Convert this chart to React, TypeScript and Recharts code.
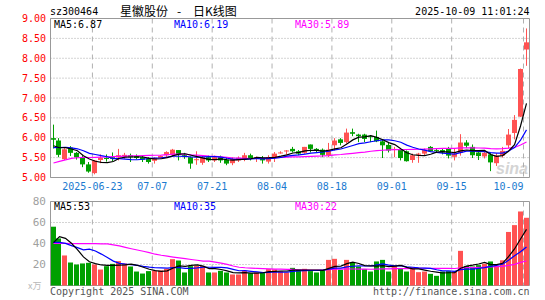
import React from "react";
import {
  Bar,
  CartesianGrid,
  ComposedChart,
  Line,
  ReferenceArea,
  XAxis,
  YAxis,
} from "recharts";

// trading days shown (2025), holiday gap 10-01..10-08
const dates = [
  "06-12", "06-13",
  "06-16", "06-17", "06-18", "06-19", "06-20",
  "06-23", "06-24", "06-25", "06-26", "06-27",
  "06-30", "07-01", "07-02", "07-03", "07-04",
  "07-07", "07-08", "07-09", "07-10", "07-11",
  "07-14", "07-15", "07-16", "07-17", "07-18",
  "07-21", "07-22", "07-23", "07-24", "07-25",
  "07-28", "07-29", "07-30", "07-31", "08-01",
  "08-04", "08-05", "08-06", "08-07", "08-08",
  "08-11", "08-12", "08-13", "08-14", "08-15",
  "08-18", "08-19", "08-20", "08-21", "08-22",
  "08-25", "08-26", "08-27", "08-28", "08-29",
  "09-01", "09-02", "09-03", "09-04", "09-05",
  "09-08", "09-09", "09-10", "09-11", "09-12",
  "09-15", "09-16", "09-17", "09-18", "09-19",
  "09-22", "09-23", "09-24", "09-25", "09-26",
  "09-29", "09-30",
  "10-09",
];

const tickDates = ["06-23", "07-07", "07-21", "08-04", "08-18", "09-01", "09-15", "10-09"];
const tickLabels = ["2025-06-23", "07-07", "07-21", "08-04", "08-18", "09-01", "09-15", "10-09"];

const opens = [
  5.99, 5.93, 5.46, 5.75, 5.62, 5.49, 5.33, 5.11, 5.44, 5.49,
  5.51, 5.51, 5.53, 5.56, 5.54, 5.51, 5.47, 5.42, 5.49, 5.56,
  5.57, 5.69, 5.56, 5.51, 5.45, 5.37, 5.51, 5.43, 5.51, 5.45,
  5.36, 5.43, 5.46, 5.56, 5.49, 5.49, 5.40, 5.51, 5.62, 5.67,
  5.72, 5.66, 5.62, 5.83, 5.72, 5.70, 5.56, 5.81, 5.96, 5.89,
  6.14, 6.08, 6.08, 6.04, 6.02, 5.91, 5.82, 5.70, 5.71, 5.66,
  5.44, 5.58, 5.60, 5.77, 5.69, 5.69, 5.73, 5.52, 5.62, 5.88,
  5.77, 5.63, 5.53, 5.58, 5.36, 5.55, 5.81, 6.12, 6.53, 8.22,
];
const highs = [
  6.33, 5.99, 5.74, 5.79, 5.64, 5.56, 5.39, 5.44, 5.58, 5.58,
  5.63, 5.72, 5.62, 5.60, 5.58, 5.56, 5.51, 5.51, 5.56, 5.66,
  5.72, 5.69, 5.62, 5.53, 5.66, 5.56, 5.55, 5.55, 5.55, 5.51,
  5.51, 5.53, 5.62, 5.60, 5.53, 5.54, 5.56, 5.64, 5.66, 5.69,
  5.77, 5.69, 5.77, 5.83, 5.74, 5.73, 5.87, 5.99, 5.99, 6.23,
  6.23, 6.10, 6.10, 6.06, 6.18, 5.97, 5.88, 5.77, 5.74, 5.68,
  5.60, 5.62, 5.73, 5.79, 5.72, 5.72, 5.77, 5.74, 6.09, 5.94,
  5.83, 5.69, 5.69, 5.62, 5.61, 5.77, 6.22, 6.57, 7.74, 8.75,
];
const lows = [
  5.73, 5.51, 5.44, 5.54, 5.45, 5.26, 5.12, 5.08, 5.36, 5.40,
  5.40, 5.43, 5.47, 5.39, 5.46, 5.39, 5.35, 5.35, 5.47, 5.49,
  5.54, 5.43, 5.47, 5.22, 5.32, 5.32, 5.39, 5.39, 5.37, 5.31,
  5.31, 5.39, 5.41, 5.43, 5.39, 5.35, 5.35, 5.39, 5.60, 5.57,
  5.63, 5.56, 5.60, 5.63, 5.63, 5.51, 5.51, 5.68, 5.81, 5.85,
  6.04, 5.89, 5.89, 5.89, 5.89, 5.49, 5.63, 5.51, 5.43, 5.40,
  5.37, 5.37, 5.56, 5.64, 5.64, 5.58, 5.48, 5.43, 5.55, 5.74,
  5.49, 5.44, 5.48, 5.16, 5.29, 5.50, 5.73, 5.96, 6.52, 7.81,
];
const closes = [
  5.95, 5.57, 5.71, 5.62, 5.51, 5.33, 5.15, 5.43, 5.49, 5.47,
  5.47, 5.56, 5.57, 5.51, 5.49, 5.45, 5.39, 5.49, 5.54, 5.64,
  5.70, 5.57, 5.54, 5.35, 5.46, 5.51, 5.43, 5.51, 5.43, 5.35,
  5.47, 5.49, 5.56, 5.49, 5.51, 5.43, 5.51, 5.60, 5.63, 5.68,
  5.66, 5.60, 5.77, 5.72, 5.67, 5.57, 5.70, 5.93, 5.87, 6.13,
  6.10, 6.04, 5.97, 6.02, 5.91, 5.81, 5.68, 5.72, 5.49, 5.41,
  5.56, 5.60, 5.69, 5.66, 5.68, 5.63, 5.55, 5.60, 5.88, 5.80,
  5.56, 5.54, 5.62, 5.38, 5.55, 5.67, 6.08, 6.45, 7.73, 8.40,
];
const volumes = [
  56, 44.8, 28.6, 21.9, 20, 21, 21.6, 20, 15.2, 18.4,
  20.6, 23.2, 21, 18.1, 13.3, 11.4, 13.7, 14.3, 14.3, 15.9,
  25.1, 23.8, 12.4, 18.4, 18.7, 18.7, 12.4, 12.4, 14, 12.4,
  10.5, 10.5, 14, 11.7, 12.4, 12, 15.6, 15.3, 13.7, 12.4,
  16.8, 15, 15.9, 13.7, 12.4, 15, 24.4, 25.4, 15, 24.4,
  21.9, 18.1, 15.6, 13.3, 22.9, 24.4, 13.3, 18.7, 16.5, 13.3,
  17.5, 12.7, 13.3, 11.1, 9.2, 13.3, 13.7, 13.3, 33, 18.7,
  18.1, 19.4, 20.6, 22.9, 18.7, 24, 51, 57.5, 70.5, 64.5,
];

// sessions before the window, estimated from where the averages start
const earlierCloses = [
  4.40, 4.52, 4.46, 5.05, 5.12, 5.20, 5.28, 5.35, 5.30, 5.26,
  5.32, 5.38, 5.41, 5.36, 5.33, 5.29, 5.34, 5.40, 5.37, 5.30,
  5.52, 5.65, 5.78, 5.74, 5.81, 5.83, 5.70, 5.79, 5.73,
];
const earlierVolumes = [
  40, 30, 25, 22, 24, 21, 22, 19, 18, 48,
  55, 62, 58, 50, 47, 52, 60, 45, 42, 50,
  45, 38, 42, 40, 41, 16, 37, 45, 50,
];

const priceTicks = [5, 5.5, 6, 6.5, 7, 7.5, 8, 8.5, 9];
const volumeTicks = [20, 40, 60, 80];

const priceLegend = [
  { text: "MA5:6.87", color: "#000000", x: 54 },
  { text: "MA10:6.19", color: "#0000ff", x: 174 },
  { text: "MA30:5.89", color: "#ff00ff", x: 295 },
];
const volumeLegend = [
  { text: "MA5:53", color: "#000000", x: 54 },
  { text: "MA10:35", color: "#0000ff", x: 174 },
  { text: "MA30:22", color: "#ff00ff", x: 295 },
];

const RED = "#ff5252";
const GREEN = "#00a000";
const MONO = '"DejaVu Sans Mono", "Liberation Mono", monospace';
const CJK = '"Noto Sans CJK SC", sans-serif';

const WIDTH = 545;
const PLOT_LEFT = 50.5;
const PLOT_RIGHT = 529.5;
const BAND = (PLOT_RIGHT - PLOT_LEFT) / dates.length;
const PRICE_HEIGHT = 195;
const PRICE_TOP = 18.5;
const PRICE_BOTTOM = 177.5;
const VOL_OFFSET = 195;
const VOL_HEIGHT = 105;
const VOL_TOP = 201.5;
const VOL_BOTTOM = 285.5;

function movingAverage(values: number[], earlier: number[], n: number) {
  const all = [...earlier, ...values];
  return values.map((_, i) => {
    const end = earlier.length + i;
    let sum = 0;
    for (let k = end - n + 1; k <= end; k++) sum += all[k];
    return sum / n;
  });
}

const ma5 = movingAverage(closes, earlierCloses, 5);
const ma10 = movingAverage(closes, earlierCloses, 10);
const ma30 = movingAverage(closes, earlierCloses, 30);
const vma5 = movingAverage(volumes, earlierVolumes, 5);
const vma10 = movingAverage(volumes, earlierVolumes, 10);
const vma30 = movingAverage(volumes, earlierVolumes, 30);

const rows = dates.map((date, i) => ({
  date,
  open: opens[i],
  high: highs[i],
  low: lows[i],
  close: closes[i],
  range: [lows[i], highs[i]],
  volume: volumes[i],
  ma5: ma5[i],
  ma10: ma10[i],
  ma30: ma30[i],
  vma5: vma5[i],
  vma10: vma10[i],
  vma30: vma30[i],
}));

// dashed verticals sit on the left edge of the tick day's slot
const gridX = tickDates.map((d) => PLOT_LEFT + BAND * dates.indexOf(d));

function Candle(props: any) {
  const { x, y, width, height, payload } = props;
  if (x == null || !payload) return null;
  const top = Math.min(y, y + height);
  const h = Math.abs(height);
  const { open, close, high, low } = payload;
  const span = high - low || 1;
  const toY = (v: number) => top + ((high - v) / span) * h;
  const color = close >= open ? RED : GREEN;
  const left = Math.floor(x + width / 2 - 2.5);
  const bodyTop = toY(Math.max(open, close));
  const bodyBottom = toY(Math.min(open, close));
  return (
    <g>
      <rect x={left + 2} y={top} width={1} height={Math.max(h, 1)} fill={color} />
      <rect
        x={left}
        y={bodyTop}
        width={5}
        height={Math.max(bodyBottom - bodyTop, 1)}
        fill={color}
      />
    </g>
  );
}

function VolumeBar(props: any) {
  const { x, y, width, height, payload } = props;
  if (x == null || !payload) return null;
  const color = payload.close >= payload.open ? RED : GREEN;
  const left = Math.floor(x + width / 2 - 2.5);
  return <rect x={left} y={y} width={5} height={Math.max(height, 0)} fill={color} />;
}

function DateTick(props: any) {
  const { x, y, payload } = props;
  const idx = tickDates.indexOf(payload.value);
  const isLast = payload.value === dates[dates.length - 1];
  return (
    <text
      x={isLast ? PLOT_RIGHT - 6 : x - BAND / 2}
      y={y}
      dy={12}
      textAnchor={isLast ? "end" : "middle"}
      fill="#1a7ad0"
      fontSize={10}
      fontFamily={MONO}
    >
      {idx >= 0 ? tickLabels[idx] : payload.value}
    </text>
  );
}

export default function App() {
  const axisFont = { fontSize: 10, fontFamily: MONO };
  return (
    <div
      style={{
        position: "absolute",
        left: 0,
        top: 0,
        width: WIDTH,
        height: 300,
        background: "#fff",
        overflow: "hidden",
      }}
    >
      <svg
        width={WIDTH}
        height={300}
        style={{ position: "absolute", left: 0, top: 0 }}
      >
        <text
          x={496}
          y={174}
          fill="#d4d4d4"
          fontSize={16}
          fontStyle="italic"
          fontWeight="bold"
          fontFamily='"Liberation Sans", sans-serif'
        >
          sina
        </text>
      </svg>

      <div style={{ position: "absolute", left: 0, top: 0 }}>
        <ComposedChart
          width={WIDTH}
          height={PRICE_HEIGHT}
          data={rows}
          margin={{ top: PRICE_TOP, right: WIDTH - PLOT_RIGHT, bottom: 0, left: 0 }}
          barCategoryGap={0}
        >
          <CartesianGrid vertical={false} stroke="#a8a8a8" strokeDasharray="1 2" />
          <CartesianGrid
            horizontal={false}
            verticalPoints={gridX}
            stroke="#b0b0b0"
            strokeDasharray="5 4"
          />
          <XAxis
            dataKey="date"
            ticks={tickDates}
            interval={0}
            tickLine={false}
            axisLine={false}
            tickSize={0}
            tickMargin={0}
            height={PRICE_HEIGHT - PRICE_BOTTOM}
            tick={<DateTick />}
          />
          <YAxis
            domain={[5, 9]}
            ticks={priceTicks}
            interval={0}
            width={PLOT_LEFT}
            tickLine={false}
            axisLine={false}
            tickSize={0}
            tickMargin={4.5}
            tickFormatter={(v: number) => v.toFixed(2)}
            tick={{ ...axisFont, fill: "#ff0000" }}
          />
          <Bar dataKey="range" shape={<Candle />} isAnimationActive={false} />
          <Line dataKey="ma30" stroke="#ff00ff" strokeWidth={1.2} dot={false} activeDot={false} type="linear" isAnimationActive={false} />
          <Line dataKey="ma10" stroke="#0000ff" strokeWidth={1.2} dot={false} activeDot={false} type="linear" isAnimationActive={false} />
          <Line dataKey="ma5" stroke="#000000" strokeWidth={1.2} dot={false} activeDot={false} type="linear" isAnimationActive={false} />
          <ReferenceArea
            x1={dates[0]}
            x2={dates[dates.length - 1]}
            y1={5}
            y2={9}
            fill="none"
            stroke="#999999"
            strokeWidth={1}
            ifOverflow="visible"
          />
        </ComposedChart>
      </div>

      <div style={{ position: "absolute", left: 0, top: VOL_OFFSET }}>
        <ComposedChart
          width={WIDTH}
          height={VOL_HEIGHT}
          data={rows}
          margin={{
            top: VOL_TOP - VOL_OFFSET,
            right: WIDTH - PLOT_RIGHT,
            bottom: VOL_OFFSET + VOL_HEIGHT - VOL_BOTTOM,
            left: 0,
          }}
          barCategoryGap={0}
        >
          <CartesianGrid vertical={false} stroke="#a8a8a8" strokeDasharray="1 2" />
          <CartesianGrid
            horizontal={false}
            verticalPoints={gridX}
            stroke="#b0b0b0"
            strokeDasharray="5 4"
          />
          <XAxis dataKey="date" hide />
          <YAxis
            domain={[0, 80]}
            ticks={volumeTicks}
            interval={0}
            width={PLOT_LEFT}
            tickLine={false}
            axisLine={false}
            tickSize={0}
            tickMargin={4.5}
            tick={{ fontSize: 11, fontFamily: MONO, fill: "#a0a0a0" }}
          />
          <Bar dataKey="volume" shape={<VolumeBar />} isAnimationActive={false} />
          <Line dataKey="vma30" stroke="#ff00ff" strokeWidth={1.2} dot={false} activeDot={false} type="linear" isAnimationActive={false} />
          <Line dataKey="vma10" stroke="#0000ff" strokeWidth={1.2} dot={false} activeDot={false} type="linear" isAnimationActive={false} />
          <Line dataKey="vma5" stroke="#000000" strokeWidth={1.2} dot={false} activeDot={false} type="linear" isAnimationActive={false} />
          <ReferenceArea
            x1={dates[0]}
            x2={dates[dates.length - 1]}
            y1={0}
            y2={80}
            fill="none"
            stroke="#999999"
            strokeWidth={1}
            ifOverflow="visible"
          />
        </ComposedChart>
      </div>

      <svg
        width={WIDTH}
        height={300}
        style={{ position: "absolute", left: 0, top: 0, pointerEvents: "none" }}
      >
        <text x={50} y={15} fontSize={10} fontFamily={MONO} fill="#000">
          sz300464
        </text>
        <text x={120} y={16} fontSize={12} fontFamily={CJK} fill="#000">
          星徽股份
        </text>
        <text x={177} y={16} fontSize={12} fontFamily={CJK} fill="#000">
          -
        </text>
        <text x={193} y={16} fontSize={12} fontFamily={CJK} fill="#000">
          日K线图
        </text>
        <text x={PLOT_RIGHT} y={15} fontSize={10} fontFamily={MONO} fill="#000" textAnchor="end">
          2025-10-09 11:01:24
        </text>
        {priceLegend.map((l) => (
          <text key={l.text} x={l.x} y={27.5} fontSize={10} fontFamily={MONO} fill={l.color}>
            {l.text}
          </text>
        ))}
        {volumeLegend.map((l) => (
          <text key={l.text} x={l.x} y={210} fontSize={10} fontFamily={MONO} fill={l.color}>
            {l.text}
          </text>
        ))}
        <text x={28} y={289} fontSize={9} fontFamily={CJK} fill="#b8b8b8">
          x万
        </text>
        <text x={50} y={295} fontSize={10} fontFamily={MONO} fill="#555">
          Copyright 2025 SINA.COM
        </text>
        <text x={PLOT_RIGHT} y={295} fontSize={10} fontFamily={MONO} fill="#555" textAnchor="end">
          http://finance.sina.com.cn
        </text>
      </svg>
    </div>
  );
}
